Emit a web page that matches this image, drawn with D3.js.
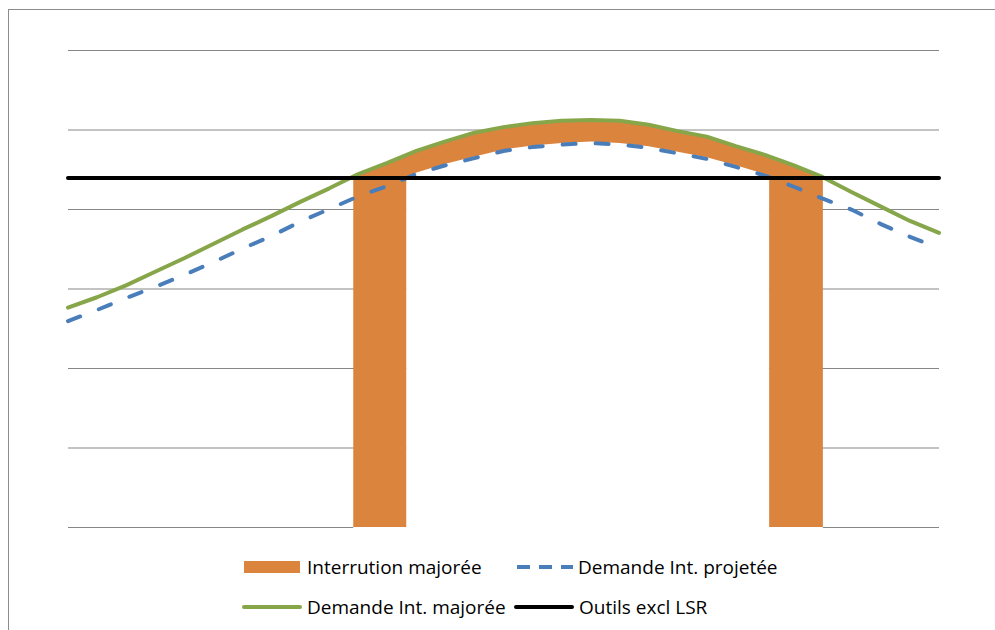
<!DOCTYPE html>
<html>
<head>
<meta charset="utf-8">
<script src="https://cdn.jsdelivr.net/npm/d3@7/dist/d3.min.js"></script>
<style>
	body { margin: 0; background: #fff; }
	svg { display: block; font-family: "Open Sans", sans-serif; }
</style>
</head>
<body>
<svg id="chart" width="995" height="630"></svg>
<script>
// x positions (periods) shared by the two demand curves
const periods = [0, 4, 8, 12, 16, 20, 24, 28, 32, 36, 40, 44, 48, 52, 56, 60, 64, 68, 72, 76, 80, 84, 88, 92, 96, 100, 104, 108, 112, 116, 120];

const demandeMajoree = [2760, 2890, 3040, 3210, 3380, 3560, 3740, 3910, 4090, 4260, 4440, 4580, 4730, 4850, 4960, 5030, 5080, 5110, 5120, 5110, 5060, 4980, 4910, 4790, 4680, 4550, 4400, 4210, 4030, 3850, 3700];
const demandeProjetee = [2590, 2730, 2880, 3020, 3170, 3330, 3500, 3660, 3840, 4000, 4160, 4290, 4440, 4550, 4640, 4730, 4780, 4810, 4830, 4810, 4770, 4700, 4630, 4530, 4420, 4280, 4130, 3990, 3810, 3650, 3510];

// flat capacity line
const outilsExclLSR = 4390;

// interruption area (stacked on an invisible white base)
const interruptionX = [39.3, 40, 44, 46.6, 46.6, 48, 52, 56, 60, 64, 68, 72, 76, 80, 84, 88, 92, 96, 96.6, 96.6, 100, 104];
const interruptionTop = [4390, 4440, 4580, 4670, 4670, 4730, 4850, 4960, 5030, 5080, 5110, 5120, 5110, 5060, 4980, 4910, 4790, 4680, 4660, 4660, 4550, 4400];
const interruptionBase = [0, 0, 0, 0, 4390, 4460, 4570, 4660, 4750, 4800, 4830, 4850, 4830, 4790, 4720, 4650, 4550, 4440, 4400, 0, 0, 0];

const yTicks = [0, 1000, 2000, 3000, 4000, 5000, 6000];

const colors = {
	orange: "#db843e",
	blue: "#4a7ebb",
	green: "#87a64a",
	black: "#000000",
	grid: "#878787",
};

const svg = d3.select("#chart");

const margin = { left: 68, right: 56, top: 50, bottom: 103 };
const width = 995 - margin.left - margin.right;
const height = 630 - margin.top - margin.bottom;

const x = d3.scaleLinear().domain([0, 120]).range([margin.left, margin.left + width]);
const y = d3.scaleLinear().domain([0, 6000]).range([margin.top + height, margin.top]);

// chart frame (runs past the right and bottom edges)
svg.append("rect")
	.attr("x", 8.5).attr("y", 9.5)
	.attr("width", 1100).attr("height", 800)
	.attr("fill", "none")
	.attr("stroke", "#8c8c8c")
	.attr("stroke-width", 1);

// horizontal gridlines, no labels
const yAxis = d3.axisLeft(y).tickValues(yTicks).tickSize(-width).tickFormat("");
const gAxis = svg.append("g").attr("transform", `translate(${margin.left},0)`).call(yAxis);
gAxis.select(".domain").remove();
gAxis.selectAll(".tick line").attr("stroke", colors.grid).attr("stroke-width", 1);

const interruption = interruptionX.map((d, i) => ({ x: d, top: interruptionTop[i], base: interruptionBase[i] }));

// white base area hides the gridlines under the projected demand
svg.append("path")
	.datum(interruption)
	.attr("fill", "#fff")
	.attr("d", d3.area().x(d => x(d.x)).y0(y(0) + 1).y1(d => y(d.base)));

svg.append("path")
	.datum(interruption)
	.attr("fill", colors.orange)
	.attr("d", d3.area().x(d => x(d.x)).y0(d => y(d.base)).y1(d => y(d.top)));

const line = d3.line().x((d, i) => x(periods[i])).y(d => y(d));

svg.append("path")
	.datum(demandeProjetee)
	.attr("fill", "none")
	.attr("stroke", colors.blue)
	.attr("stroke-width", 4)
	.attr("stroke-dasharray", "13,20")
	.attr("stroke-linecap", "round")
	.attr("d", line);

svg.append("path")
	.datum(demandeMajoree)
	.attr("fill", "none")
	.attr("stroke", colors.green)
	.attr("stroke-width", 4)
	.attr("stroke-linejoin", "round")
	.attr("stroke-linecap", "round")
	.attr("d", line);

svg.append("line")
	.attr("x1", x(0)).attr("x2", x(120))
	.attr("y1", y(outilsExclLSR)).attr("y2", y(outilsExclLSR))
	.attr("stroke", colors.black)
	.attr("stroke-width", 4)
	.attr("stroke-linecap", "round");

// legend
const legendItems = [
	{ label: "Interrution majorée", type: "rect", color: colors.orange, lx: 244, ly: 567 },
	{ label: "Demande Int. projetée", type: "dash", color: colors.blue, lx: 515, ly: 567 },
	{ label: "Demande Int. majorée", type: "line", color: colors.green, lx: 244, ly: 607 },
	{ label: "Outils excl LSR", type: "line", color: colors.black, lx: 516, ly: 607 },
];

const legend = svg.append("g").attr("class", "legend");
legendItems.forEach(item => {
	const g = legend.append("g").attr("transform", `translate(${item.lx},${item.ly})`);
	if (item.type === "rect") {
		g.append("rect").attr("x", 0).attr("y", -6).attr("width", 56).attr("height", 12).attr("fill", item.color);
	} else if (item.type === "dash") {
		g.append("line").attr("x1", 2).attr("x2", 58).attr("y1", 0).attr("y2", 0)
			.attr("stroke", item.color).attr("stroke-width", 4)
			.attr("stroke-dasharray", "13,9").attr("stroke-linecap", "butt");
	} else {
		g.append("line").attr("x1", 0).attr("x2", 56).attr("y1", 0).attr("y2", 0)
			.attr("stroke", item.color).attr("stroke-width", 4)
			.attr("stroke-linecap", "round");
	}
	g.append("text")
		.attr("x", 63)
		.attr("y", 0)
		.attr("dy", "0.36em")
		.attr("font-size", 19)
		.attr("fill", "#000")
		.text(item.label);
});
</script>
</body>
</html>
